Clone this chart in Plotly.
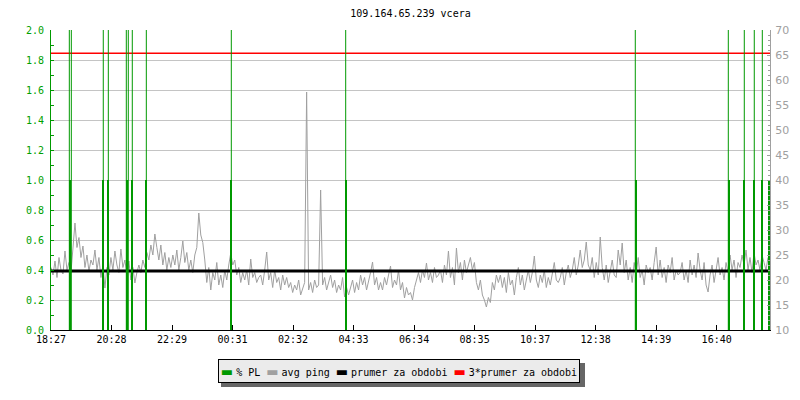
import plotly.graph_objects as go
import pandas as pd

# ---------------- data ----------------
title_text = "109.164.65.239 vcera"
start_time = "2024-05-14 18:27:00"
period_hours = 24
ping_step_min = 4

# average ping in ms, one value every 4 minutes
avg_ping_ms = [
    22.5, 21.0, 23.8, 20.5, 24.5, 22.0, 21.2, 25.8, 22.0, 23.5, 21.5, 27.0, 31.4, 26.5, 28.5,
    24.5, 26.8, 22.5, 25.0, 21.8, 24.0, 23.0, 26.0, 22.0, 24.5, 20.5, 23.0, 18.4, 22.5, 21.0,
    24.5, 22.0, 25.8, 23.0, 21.5, 26.2, 22.5, 24.0, 21.0, 23.8, 20.0, 22.5, 19.4, 21.5, 23.0,
    21.5, 24.0, 22.5, 25.5, 24.0, 27.0, 25.0, 29.2, 26.5, 24.0, 27.0, 23.0, 25.5, 22.0, 24.5,
    22.5, 25.0, 23.0, 26.0, 22.0, 24.5, 27.8, 23.5, 25.5, 22.0, 24.0, 21.5, 25.0, 26.5, 33.4,
    29.0, 27.5, 24.0, 19.5, 22.5, 18.0, 21.5, 20.0, 23.5, 19.0, 21.0, 18.5, 22.0, 20.0, 23.0,
    25.4, 23.0, 24.0, 21.0, 22.5, 19.5, 21.5, 20.0, 22.0, 19.0, 24.2, 20.5, 21.5, 19.5, 20.5,
    21.0, 19.0, 22.0, 25.6, 20.0, 21.5, 18.5, 22.0, 19.5, 20.5, 18.0, 21.0, 19.0, 20.5, 18.5,
    19.5, 17.5, 19.0, 18.0, 20.0, 17.0, 18.5, 19.5, 57.6, 18.0, 19.5, 17.5, 20.0, 18.5, 19.0,
    38.0, 19.0, 20.5, 18.0, 19.5, 21.0, 18.5, 20.0, 17.5, 19.0, 18.0, 20.5, 16.6, 18.5, 17.0,
    18.5, 20.0, 17.5, 19.5, 18.0, 21.0, 19.0, 20.5, 18.0, 19.5, 21.5, 23.6, 19.0, 20.5, 18.0,
    19.5, 18.0, 20.5, 19.0, 21.0, 22.8, 18.5, 20.0, 19.0, 22.0, 18.0, 19.5, 16.4, 18.5, 17.0,
    17.5, 16.0, 18.5, 20.0, 21.5, 19.5, 22.0, 20.5, 23.4, 20.0, 21.5, 19.5, 22.5, 20.5, 21.0,
    22.0, 19.5, 23.0, 21.0, 25.8, 20.5, 22.5, 19.0, 26.4, 21.5, 23.5, 20.0, 24.0, 21.5, 23.0,
    24.5, 22.0, 23.5, 19.5, 18.0, 20.0, 17.0, 16.0, 14.6, 16.5, 15.5, 19.5, 18.0, 21.0, 19.5,
    21.0, 18.5, 20.5, 17.5, 21.5, 19.0, 20.0, 17.0, 20.5, 22.5, 19.0, 21.0, 18.0, 20.0, 22.0,
    19.5, 21.5, 24.8, 20.0, 18.5, 21.0, 19.5, 22.0, 18.5, 20.5, 19.0, 21.5, 23.5, 20.0, 19.5,
    20.5, 22.5, 19.0, 21.5, 23.0, 20.5, 22.0, 24.5, 21.0, 23.0, 26.0, 22.5, 24.0, 27.6, 23.0,
    22.0, 24.5, 20.5, 23.5, 21.0, 28.6, 22.5, 20.0, 23.0, 19.5, 22.0, 24.0, 21.0, 20.5, 26.0,
    23.0, 27.4, 21.5, 24.0, 20.0, 22.5, 19.5, 23.5, 21.0, 24.5, 20.5, 22.0, 19.0, 23.0, 21.5,
    22.5, 20.0, 23.5, 26.6, 21.0, 24.0, 20.5, 22.5, 19.5, 23.0, 21.5, 24.5, 20.0, 22.0, 21.0,
    21.5, 23.5, 20.0, 22.0, 19.5, 24.0, 21.0, 23.0, 20.5, 25.4, 22.0, 20.0, 23.5, 19.0, 17.6,
    21.0, 23.0, 19.5, 22.5, 24.5, 21.0, 22.5, 20.0, 23.5, 21.5, 25.0, 22.0, 24.0, 20.5, 23.5,
    22.5, 25.0, 23.0, 26.0, 22.0, 24.5, 21.5, 25.5, 23.0, 24.0, 22.0, 25.0, 23.5, 22.0, 24.5,
]

mean_ping_ms = 21.78            # "prumer za obdobi"
mean_factor = 3                 # "3*prumer za obdobi"

# packet-loss events: minutes after start
pl_bar_min = [38.7, 103.7, 113.8, 152.6, 163.2, 190.9, 360.1, 591.2,
              1171.2, 1357.5, 1388.9, 1408.9, 1423.6, 1438.0]
pl_bar_values = [1.0, 1.0, 1.0, 1.0, 1.0, 1.0, 1.0, 1.0,
                 1.0, 1.0, 1.0, 1.0, 1.0, 1.0]
pl_line_min = [36.7, 40.7, 104.7, 114.8, 150.8, 154.8, 162.8, 190.9,
               361.1, 590.2, 1170.2, 1356.5, 1388.5, 1408.5, 1424.6]
pl_line_values = [2.0, 2.0, 2.0, 2.0, 2.0, 2.0, 2.0, 2.0,
                  2.0, 2.0, 2.0, 2.0, 2.0, 2.0, 2.0]

tick_labels = ["18:27", "20:28", "22:29", "00:31", "02:32", "04:33",
               "06:34", "08:35", "10:37", "12:38", "14:39", "16:40"]
tick_step_min = 121.2

# ---------------- derived ----------------
t0 = pd.Timestamp(start_time)
t1 = t0 + pd.Timedelta(hours=period_hours)
ping_x = [t0 + pd.Timedelta(minutes=ping_step_min * i) for i in range(len(avg_ping_ms))]
tick_x = [t0 + pd.Timedelta(minutes=tick_step_min * k) for k in range(len(tick_labels))]
bar_x = [t0 + pd.Timedelta(minutes=m) for m in pl_bar_min]
line_x, line_y = [], []
for m, v in zip(pl_line_min, pl_line_values):
    t = t0 + pd.Timedelta(minutes=m)
    line_x += [t, t, None]
    line_y += [0, v, None]

GREEN = "#009900"
GREEN_TXT = "#00a000"
GRAY = "#a0a0a0"
RED = "#ff0000"
MONO = "DejaVu Sans Mono"

fig = go.Figure()
fig.add_trace(go.Scatter(x=ping_x, y=avg_ping_ms, mode="lines", name="avg ping",
                         line=dict(color=GRAY, width=1), yaxis="y", showlegend=False))
fig.add_trace(go.Scatter(x=[t0, t1], y=[mean_ping_ms, mean_ping_ms], mode="lines",
                         name="prumer za obdobi", line=dict(color="black", width=3),
                         yaxis="y", showlegend=False))
fig.add_trace(go.Scatter(x=[t0, t1], y=[mean_factor * mean_ping_ms] * 2, mode="lines",
                         name="3*prumer za obdobi", line=dict(color=RED, width=1.5),
                         yaxis="y", showlegend=False))
fig.add_trace(go.Bar(x=bar_x, y=pl_bar_values, width=[4 * 60 * 1000] * len(bar_x),
                     marker=dict(color=GREEN, line=dict(width=0)), name="% PL",
                     yaxis="y2", showlegend=False))
fig.add_trace(go.Scatter(x=line_x, y=line_y, mode="lines", line=dict(color=GREEN, width=1),
                         yaxis="y2", showlegend=False, name="% PL"))

GAP = "<span style='font-size:5px'> </span>"


def sym(color):
    return (f"<span style='font-family:DejaVu Sans;font-size:13px;color:{color}'>▬</span>")


legend_text = (f"{sym(GREEN)}{GAP}% PL "
               f"{sym(GRAY)}{GAP}avg ping "
               f"{sym('#000000')}{GAP}prumer za obdobi "
               f"{sym(RED)}{GAP}3*prumer za obdobi")

fig.update_layout(
    width=800, height=400,
    margin=dict(l=51, r=30, t=30, b=70),
    paper_bgcolor="white", plot_bgcolor="white",
    bargap=0,
    title=dict(text=title_text, x=0.5, xref="paper", xanchor="center",
               y=1 - 13 / 400, yanchor="middle",
               font=dict(family=MONO, size=10, color="black")),
    xaxis=dict(type="date", range=[t0, t1], tickvals=tick_x, ticktext=tick_labels,
               ticks="inside", ticklen=5, tickcolor="black", showline=True,
               linecolor="black", linewidth=1, showgrid=False, zeroline=False,
               tickfont=dict(family=MONO, size=10, color="black")),
    yaxis=dict(side="right", range=[10, 70], dtick=5, tick0=10, showgrid=False,
               zeroline=False, showline=True, linecolor="#a0a0a0", linewidth=1,
               ticks="inside", ticklen=3, tickcolor="#a0a0a0",
               minor=dict(dtick=1, ticks="inside", ticklen=2, tickcolor="#a0a0a0"),
               tickfont=dict(family="DejaVu Sans", size=11, color="#a0a0a0"),
               ticklabelstandoff=2),
    yaxis2=dict(side="left", overlaying="y", range=[0, 2], dtick=0.2, tick0=0,
                tickformat=".1f", showgrid=True, gridcolor="#c4c4c4", gridwidth=1,
                zeroline=False, showline=True, linecolor=GREEN, linewidth=1,
                ticks="inside", ticklen=3, tickcolor=GREEN,
                minor=dict(dtick=0.1, ticks="inside", ticklen=3, tickcolor=GREEN),
                tickfont=dict(family=MONO, size=10, color=GREEN_TXT),
                ticklabelstandoff=4),
    showlegend=False,
    shapes=[dict(type="rect", xref="paper", yref="paper",
                 x0=(221 - 51) / 719, x1=(585 - 51) / 719,
                 y0=(330 - 387) / 300, y1=(330 - 363) / 300,
                 fillcolor="#666666", line=dict(width=0), layer="below")],
    annotations=[dict(text=legend_text, xref="paper", yref="paper",
                      x=(399 - 51) / 719, y=(330 - 371) / 300,
                      xanchor="center", yanchor="middle", showarrow=False,
                      width=358, height=20, borderpad=1, borderwidth=1,
                      bordercolor="black", bgcolor="#ebebeb",
                      font=dict(family=MONO, size=10, color="black"))],
)

fig.write_html("out.html", config={"displayModeBar": False},
               post_script="document.body.style.margin='0';")
